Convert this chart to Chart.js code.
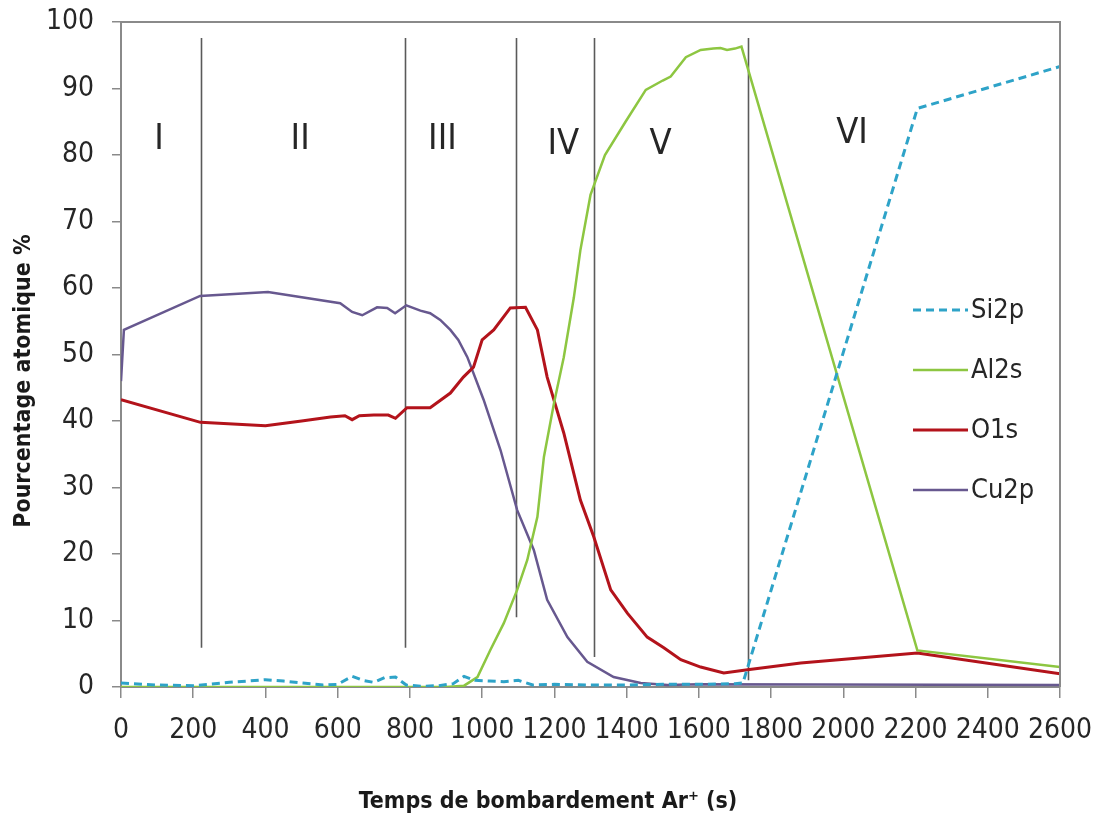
<!DOCTYPE html>
<html>
<head>
<meta charset="utf-8">
<script src="https://cdn.jsdelivr.net/npm/chart.js@4"></script>
<style>
  html, body { margin: 0; padding: 0; background: #fff; }
  #wrap { width: 1097px; height: 814px; }
</style>
</head>
<body>
<div id="wrap"><canvas id="xpsChart" width="1097" height="814"></canvas></div>
<script>
// sputter time (s) / atomic percent
const siTime = [0, 100, 200, 300, 400, 450, 500, 560, 600, 640, 670, 700, 730, 760, 790, 830, 880, 920, 950, 980, 1020, 1060, 1100, 1140, 1200, 1300, 1400, 1500, 1600, 1700, 1722, 2205, 2600];
const siPct  = [0.6, 0.3, 0.2, 0.7, 1.1, 0.9, 0.6, 0.3, 0.4, 1.6, 1.0, 0.7, 1.4, 1.5, 0.3, 0.1, 0.2, 0.5, 1.6, 1.0, 0.9, 0.8, 1.0, 0.3, 0.4, 0.3, 0.3, 0.4, 0.4, 0.5, 0.6, 87, 93.3];

const alTime = [0, 900, 950, 987, 1023, 1060, 1097, 1125, 1153, 1171, 1199, 1226, 1254, 1272, 1300, 1340, 1397, 1453, 1500, 1522, 1564, 1605, 1640, 1660, 1678, 1700, 1718, 2205, 2600];
const alPct  = [0, 0, 0.2, 1.5, 5.6, 9.6, 14.6, 19.1, 25.6, 34.6, 42.7, 49.6, 58.6, 65.7, 74, 80, 85, 89.8, 91.2, 91.8, 94.7, 95.8, 96, 96.1, 95.8, 96.0, 96.3, 5.5, 3.0];

const oTime = [0, 220, 400, 500, 580, 620, 640, 660, 700, 740, 760, 792, 856, 912, 948, 976, 1000, 1032, 1078, 1120, 1153, 1180, 1226, 1272, 1309, 1356, 1402, 1457, 1503, 1550, 1605, 1669, 1735, 1882, 2205, 2600];
const oPct  = [43.2, 39.8, 39.3, 40, 40.6, 40.8, 40.2, 40.8, 40.9, 40.9, 40.4, 42, 42, 44.2, 46.6, 48.1, 52.2, 53.7, 57, 57.1, 53.7, 46.6, 38.2, 28.1, 22.6, 14.6, 11.1, 7.5, 5.9, 4.1, 3.0, 2.1, 2.6, 3.6, 5.1, 2.0];

const cuTime = [0, 8, 219, 407, 607, 640, 668, 709, 737, 759, 790, 829, 856, 884, 912, 934, 959, 1004, 1051, 1097, 1143, 1180, 1236, 1291, 1364, 1439, 1513, 1600, 2600];
const cuPct  = [46, 53.7, 58.8, 59.4, 57.7, 56.4, 55.9, 57.1, 57.0, 56.2, 57.4, 56.6, 56.2, 55.2, 53.7, 52.2, 49.6, 43.2, 35.6, 26.6, 20.6, 13.1, 7.5, 3.8, 1.5, 0.6, 0.3, 0.4, 0.3];

const seriesNames = ['Si2p', 'Al2s', 'O1s', 'Cu2p'];

// layer boundaries (s), and where each drawn divider starts/ends (%)
const boundaryTime = [222, 787, 1095, 1311, 1735];
const boundaryTop = [97.6, 97.6, 97.6, 97.6, 97.6];
const boundaryBottom = [5.9, 5.9, 10.5, 4.5, 1.0];

const regionNames = ['I', 'II', 'III', 'IV', 'V', 'VI'];
const regionTime = [105, 496, 890, 1225, 1494, 2024];
const regionPct = [82.3, 82.3, 82.3, 81.5, 81.5, 83.2];

const xTicks = { min: 0, max: 2600, step: 200 };
const yTicks = { min: 0, max: 100, step: 10 };

const NARROW = "'Liberation Sans Narrow', 'DejaVu Sans Condensed', 'Arial Narrow', sans-serif";
const colors = ['#2EA3C8', '#8DC641', '#B3131B', '#67588F'];

function toPoints(xs, ys) {
  return xs.map((x, i) => ({ x: x, y: ys[i] }));
}

const decorations = {
  id: 'decorations',
  beforeDatasetsDraw(chart) {
    const { ctx, scales: { x, y } } = chart;
    ctx.save();
    ctx.strokeStyle = '#5a5a5a';
    ctx.lineWidth = 1.6;
    boundaryTime.forEach((t, i) => {
      const px = Math.round(x.getPixelForValue(t)) + 0.5;
      ctx.beginPath();
      ctx.moveTo(px, y.getPixelForValue(boundaryTop[i]));
      ctx.lineTo(px, y.getPixelForValue(boundaryBottom[i]));
      ctx.stroke();
    });
    ctx.fillStyle = '#262626';
    ctx.font = '36px ' + NARROW;
    ctx.textAlign = 'center';
    ctx.textBaseline = 'middle';
    regionNames.forEach((name, i) => {
      ctx.fillText(name, x.getPixelForValue(regionTime[i]), y.getPixelForValue(regionPct[i]));
    });
    ctx.restore();
  },
  afterDraw(chart) {
    const { ctx, chartArea: a } = chart;
    ctx.save();
    // plot area frame (top and right edges)
    ctx.strokeStyle = '#8a8a8a';
    ctx.lineWidth = 2;
    ctx.beginPath();
    ctx.moveTo(a.left, a.top);
    ctx.lineTo(a.right, a.top);
    ctx.lineTo(a.right, a.bottom);
    ctx.stroke();

    // legend
    ctx.font = '27px ' + NARROW;
    ctx.textAlign = 'left';
    ctx.textBaseline = 'middle';
    chart.data.datasets.forEach((ds, i) => {
      const ly = 310 + i * 60;
      ctx.strokeStyle = ds.borderColor;
      ctx.lineWidth = ds.borderWidth;
      ctx.setLineDash(ds.borderDash || []);
      ctx.beginPath();
      ctx.moveTo(913, ly);
      ctx.lineTo(968, ly);
      ctx.stroke();
      ctx.setLineDash([]);
      ctx.fillStyle = '#262626';
      ctx.fillText(ds.label, 971, ly + 1);
    });

    // axis titles
    ctx.fillStyle = '#1a1a1a';
    ctx.font = 'bold 23px ' + NARROW;
    ctx.textAlign = 'center';
    ctx.textBaseline = 'alphabetic';
    ctx.fillText('Temps de bombardement Ar\u207A (s)', 548, 808);
    ctx.translate(30, 381);
    ctx.rotate(-Math.PI / 2);
    ctx.fillText('Pourcentage atomique %', 0, 0);
    ctx.restore();
  }
};

const ctx = document.getElementById('xpsChart').getContext('2d');
new Chart(ctx, {
  type: 'line',
  data: {
    datasets: [
      { label: seriesNames[0], data: toPoints(siTime, siPct), borderColor: colors[0], borderWidth: 3, borderDash: [8, 5] },
      { label: seriesNames[1], data: toPoints(alTime, alPct), borderColor: colors[1], borderWidth: 2.5 },
      { label: seriesNames[2], data: toPoints(oTime, oPct), borderColor: colors[2], borderWidth: 3 },
      { label: seriesNames[3], data: toPoints(cuTime, cuPct), borderColor: colors[3], borderWidth: 2.5 }
    ]
  },
  options: {
    responsive: false,
    animation: false,
    elements: { point: { radius: 0 }, line: { tension: 0, fill: false } },
    layout: { padding: { top: 22, right: 37, left: 0, bottom: 0 } },
    plugins: { legend: { display: false }, tooltip: { enabled: false } },
    scales: {
      x: {
        type: 'linear',
        min: xTicks.min,
        max: xTicks.max,
        afterFit(scale) {
          scale.height = 127;
          scale.paddingLeft = 0;
          scale.paddingRight = 0;
        },
        grid: { display: true, drawOnChartArea: false, drawTicks: true, tickLength: 11, color: '#8a8a8a', lineWidth: 1.5 },
        border: { display: true, color: '#8a8a8a', width: 2 },
        ticks: { stepSize: xTicks.step, padding: 16, color: '#262626', font: { family: NARROW, size: 28 }, maxRotation: 0, callback: (v) => String(v) }
      },
      y: {
        min: yTicks.min,
        max: yTicks.max,
        afterFit(scale) {
          scale.width = 121;
          scale.paddingTop = 0;
          scale.paddingBottom = 0;
        },
        grid: { display: true, drawOnChartArea: false, drawTicks: true, tickLength: 9, color: '#8a8a8a', lineWidth: 1.5 },
        border: { display: true, color: '#8a8a8a', width: 2 },
        ticks: { stepSize: yTicks.step, padding: 18, color: '#262626', font: { family: NARROW, size: 28 }, callback: (v) => String(v) }
      }
    }
  },
  plugins: [decorations]
});
</script>
</body>
</html>
